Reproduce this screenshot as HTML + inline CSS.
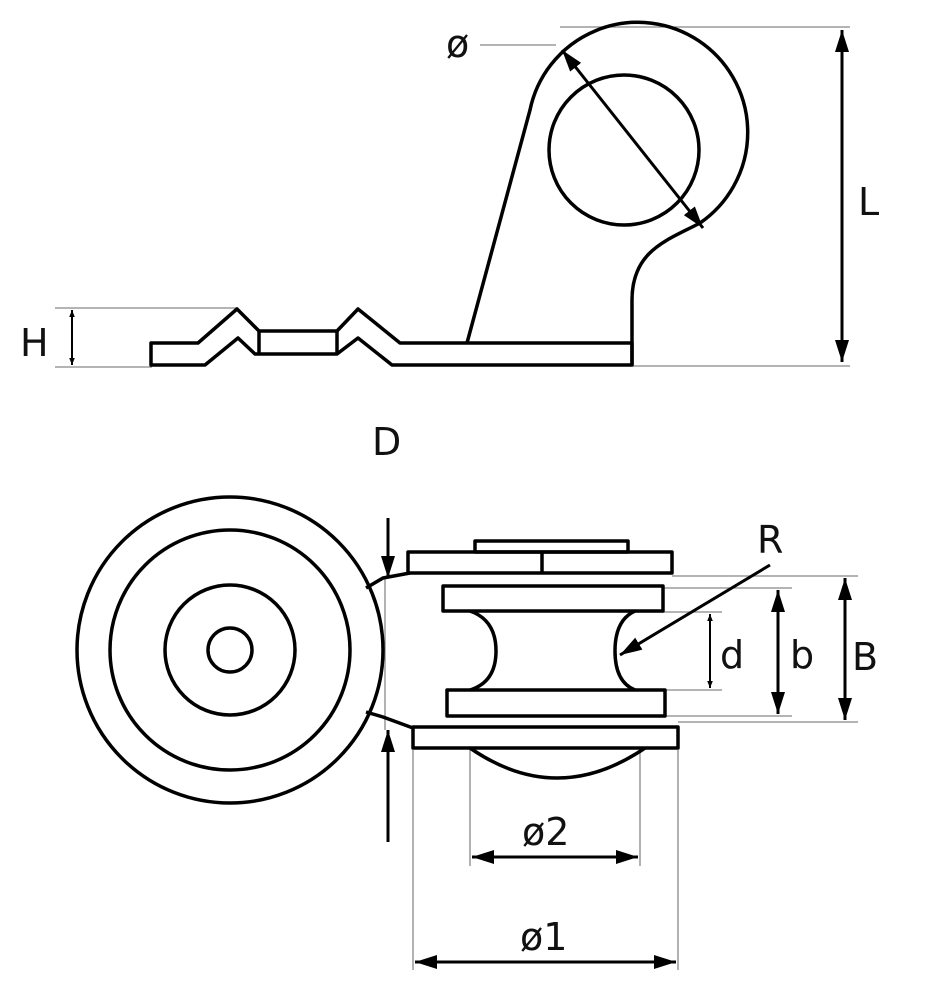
<!DOCTYPE html>
<html><head><meta charset="utf-8"><style>
html,body{margin:0;padding:0;background:#fff}
svg{display:block}
text{font-family:"DejaVu Sans","Liberation Sans",sans-serif;font-size:38px;fill:#111}
</style></head><body>
<svg width="925" height="1000" viewBox="0 0 925 1000" xmlns="http://www.w3.org/2000/svg">
<defs>
<marker id="a" viewBox="0 0 10 10" refX="10" refY="5" markerWidth="7" markerHeight="7" orient="auto-start-reverse" markerUnits="userSpaceOnUse">
<path d="M0,1 L10,5 L0,9 z" fill="#000"/></marker>
<marker id="b" viewBox="0 0 10 10" refX="10" refY="5" markerWidth="22" markerHeight="14" orient="auto-start-reverse" markerUnits="userSpaceOnUse" preserveAspectRatio="none">
<path d="M0,0 L10,5 L0,10 z" fill="#000"/></marker>
</defs>
<g stroke="#888" stroke-width="1.3" fill="none">
<line x1="480" y1="45" x2="556" y2="45"/>
<line x1="560" y1="27" x2="850" y2="27"/>
<line x1="632" y1="366" x2="850" y2="366"/>
<line x1="55" y1="308" x2="237" y2="308"/>
<line x1="55" y1="367" x2="152" y2="367"/>
<line x1="385" y1="578" x2="385" y2="730"/>
<line x1="672" y1="576" x2="858" y2="576"/>
<line x1="663" y1="588" x2="792" y2="588"/>
<line x1="618" y1="612" x2="722" y2="612"/>
<line x1="618" y1="690" x2="722" y2="690"/>
<line x1="665" y1="716" x2="792" y2="716"/>
<line x1="678" y1="722" x2="858" y2="722"/>
<line x1="470" y1="750" x2="470" y2="866"/>
<line x1="640" y1="750" x2="640" y2="866"/>
<line x1="413" y1="750" x2="413" y2="970"/>
<line x1="678" y1="750" x2="678" y2="970"/>
</g>
<g stroke="#000" stroke-width="3.5" fill="none" stroke-linejoin="round">
<path d="M632,343 L400,343 L358,309 L337,331 L259,331 L237,309 L198,343 L151,343 L151,365 L205,365 L238,338 L255,354 L337,354 L358,338 L392,365 L632,365 Z"/>
<line x1="259" y1="331" x2="259" y2="354"/>
<line x1="337" y1="331" x2="337" y2="354"/>
<path d="M467,343 L530,110 A110,110 0 1 1 700,223 C668,240 632,250 632,300 L632,365"/>
<circle cx="624" cy="150" r="75"/>
</g>
<g stroke="#000" stroke-width="3" fill="none">
<line x1="562" y1="50" x2="703" y2="228" marker-start="url(#b)" marker-end="url(#b)"/>
<line x1="842" y1="30" x2="842" y2="362" marker-start="url(#b)" marker-end="url(#b)"/>
<line x1="72" y1="310" x2="72" y2="365" stroke-width="2" marker-start="url(#a)" marker-end="url(#a)"/>
</g>
<text x="446" y="57">ø</text>
<text x="858" y="215">L</text>
<text x="20" y="356">H</text>
<g stroke="#000" stroke-width="3.5" fill="none" stroke-linejoin="round">
<circle cx="230" cy="650" r="153"/>
<path d="M366,588 L383,578 L410,573"/>
<path d="M366,712 L383,717 L413,728"/>
<circle cx="230" cy="650" r="120"/>
<circle cx="230" cy="650" r="65"/>
<circle cx="230" cy="650" r="22"/>
<rect x="475" y="541" width="153" height="11"/>
<rect x="408" y="552" width="264" height="21"/>
<line x1="542" y1="552" x2="542" y2="573"/>
<rect x="443" y="586" width="220" height="25"/>
<rect x="447" y="690" width="218" height="26"/>
<rect x="413" y="727" width="265" height="21"/>
<path d="M470,611 Q496,620 496,651 Q496,682 470,690"/>
<path d="M635,611 Q615,620 615,651 Q615,682 635,690"/>
<path d="M470,748 Q557,808 645,748"/>
</g>
<g stroke="#000" stroke-width="3" fill="none">
<line x1="388" y1="518" x2="388" y2="578" marker-end="url(#b)"/>
<line x1="388" y1="842" x2="388" y2="730" marker-end="url(#b)"/>
<line x1="770" y1="565" x2="620" y2="655" marker-end="url(#b)"/>
<line x1="710" y1="614" x2="710" y2="688" stroke-width="2" marker-start="url(#a)" marker-end="url(#a)"/>
<line x1="778" y1="590" x2="778" y2="714" marker-start="url(#b)" marker-end="url(#b)"/>
<line x1="845" y1="578" x2="845" y2="720" marker-start="url(#b)" marker-end="url(#b)"/>
<line x1="472" y1="857" x2="638" y2="857" marker-start="url(#b)" marker-end="url(#b)"/>
<line x1="415" y1="962" x2="676" y2="962" marker-start="url(#b)" marker-end="url(#b)"/>
</g>
<text x="372" y="455">D</text>
<text x="757" y="553">R</text>
<text x="720" y="668">d</text>
<text x="790" y="668">b</text>
<text x="852" y="670">B</text>
<text x="522" y="845">ø2</text>
<text x="520" y="950">ø1</text>
</svg>
</body></html>
